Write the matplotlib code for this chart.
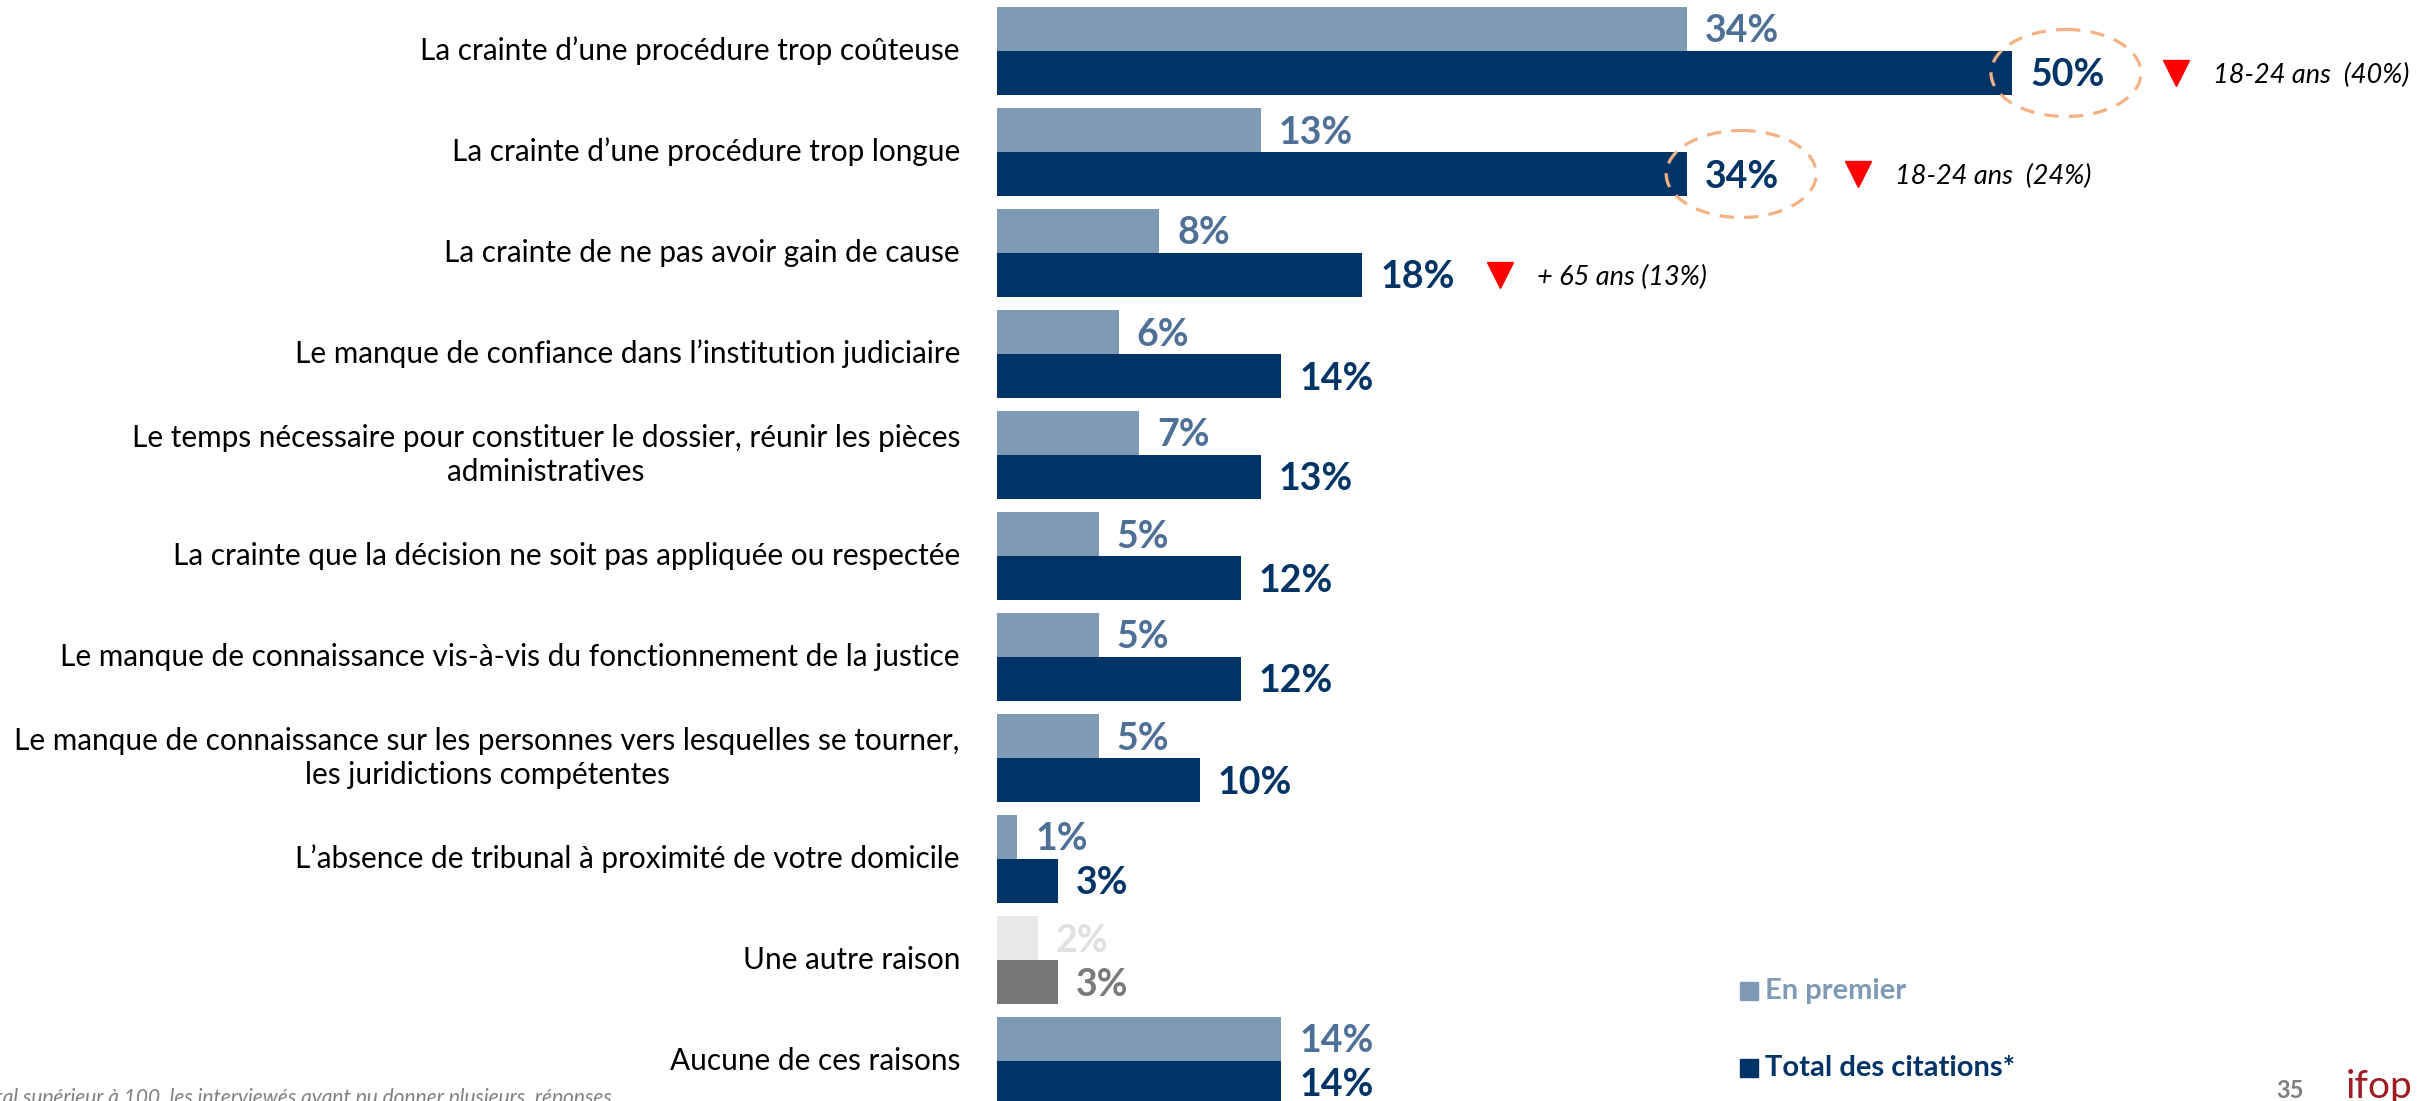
import numpy as np
import matplotlib
matplotlib.use('Agg')
import matplotlib.pyplot as plt
from matplotlib.patches import Ellipse, Rectangle

plt.rcParams['font.family'] = ['Lato', 'DejaVu Sans']

CATEGORIES = [
    "La crainte d\u2019une procédure trop coûteuse",
    "La crainte d\u2019une procédure trop longue",
    "La crainte de ne pas avoir gain de cause",
    "Le manque de confiance dans l\u2019institution judiciaire",
    "Le temps nécessaire pour constituer le dossier, réunir les pièces\nadministratives",
    "La crainte que la décision ne soit pas appliquée ou respectée",
    "Le manque de connaissance vis-à-vis du fonctionnement de la justice",
    "Le manque de connaissance sur les personnes vers lesquelles se tourner,\nles juridictions compétentes",
    "L\u2019absence de tribunal à proximité de votre domicile",
    "Une autre raison",
    "Aucune de ces raisons",
]
EN_PREMIER = [34, 13, 8, 6, 7, 5, 5, 5, 1, 2, 14]
TOTAL_CITATIONS = [50, 34, 18, 14, 13, 12, 12, 10, 3, 3, 14]
CIRCLED = [0, 1]
NOTE_ROWS = [0, 1, 2]
NOTE_TEXTS = ["18-24 ans  (40%)", "18-24 ans  (24%)", "+ 65 ans (13%)"]
GREY_ROW = 9
LEGEND_LABELS = ["En premier", "Total des citations*"]

# colours
LIGHT = "#7F9AB4"
LIGHT_TXT = "#4F7096"
DARK = "#003366"
GREY_LIGHT = "#E8E8E8"
GREY_LIGHT_TXT = "#E0E0E0"
GREY_DARK = "#777777"
GREY_DARK_TXT = "#7A7A7A"
RING = "#F4B183"

# layout, in output pixels
W, H = 2428, 1101
X0 = 997           # bar origin
PX_PER_PCT = 20.3
ROW0 = 51          # first row centre
PITCH = 101
BAR_PX = 44
PT = 0.72          # points per pixel at 100 dpi
NOTE_SHIFT = [8.1, 8.4, 6.8]  # triangle position past the bar end, in %

fig = plt.figure(figsize=(W / 100, H / 100), dpi=100)
ax = fig.add_axes([X0 / W, 0, 1 - X0 / W, 1])
ax.set_xlim(0, (W - X0) / PX_PER_PCT)
ax.set_ylim((H - ROW0) / PITCH, -ROW0 / PITCH)
ax.axis('off')

n = len(CATEGORIES)
y = np.arange(n)
h = BAR_PX / PITCH

light_cols = [GREY_LIGHT if i == GREY_ROW else LIGHT for i in range(n)]
dark_cols = [GREY_DARK if i == GREY_ROW else DARK for i in range(n)]
ax.barh(y - h / 2, EN_PREMIER, height=h, color=light_cols, linewidth=0)
ax.barh(y + h / 2, TOTAL_CITATIONS, height=h, color=dark_cols, linewidth=0)

VAL_FS = 27
for i in range(n):
    lt = GREY_LIGHT_TXT if i == GREY_ROW else LIGHT_TXT
    dt = GREY_DARK_TXT if i == GREY_ROW else DARK
    for val, yy, col in ((EN_PREMIER[i], y[i] - h / 2, lt),
                         (TOTAL_CITATIONS[i], y[i] + h / 2, dt)):
        ax.annotate(f"{val}%", xy=(val, yy), xytext=(18 * PT, -0.36 * VAL_FS),
                    textcoords='offset points', ha='left', va='baseline',
                    fontsize=VAL_FS, fontweight='bold', color=col,
                    annotation_clip=False)
    ax.text(-37 / PX_PER_PCT, y[i], CATEGORIES[i], ha='right', va='center',
            multialignment='center', fontsize=21.4, color='black',
            linespacing=1.3, clip_on=False)

# dashed rings around the highlighted totals
for i in CIRCLED:
    v = TOTAL_CITATIONS[i]
    ax.add_patch(Ellipse((v + 54 / PX_PER_PCT, y[i] + h / 2),
                         width=150 / PX_PER_PCT, height=87 / PITCH,
                         fill=False, edgecolor=RING, linewidth=2.3,
                         linestyle=(0, (4.5, 3.2)), zorder=5))

# sub-group notes
for i, txt, shift in zip(NOTE_ROWS, NOTE_TEXTS, NOTE_SHIFT):
    tx = TOTAL_CITATIONS[i] + shift
    ty = y[i] + h / 2
    ax.plot([tx], [ty], marker='v', markersize=19, color='#FF0000',
            linestyle='none', clip_on=False)
    ax.annotate(txt, xy=(tx, ty), xytext=(37 * PT, -0.36 * 19.5),
                textcoords='offset points', ha='left', va='baseline',
                fontsize=19.5, style='italic', color='black')

# legend
for k, (lab, col) in enumerate(zip(LEGEND_LABELS, [LIGHT, DARK])):
    cy = 991 + 77 * k
    fig.patches.append(Rectangle((1740 / W, 1 - (cy + 9) / H), 18 / W, 18 / H,
                                 transform=fig.transFigure, color=col))
    fig.text(1765 / W, 1 - cy / H, lab, ha='left', va='center',
             fontsize=21, fontweight='bold', color=col)

# footer
fig.text(612 / W, 1 - 1098 / H,
         "* Total supérieur à 100, les interviewés ayant pu donner plusieurs  réponses",
         ha='right', va='center', fontsize=15, style='italic', color='#808080')
fig.text(2276 / W, 1 - 1098 / H, "35", ha='left', va='baseline',
         fontsize=17, fontweight='bold', color='#7F7F7F')
fig.text(2346 / W, 1 - 1098 / H, "ifop", ha='left', va='baseline',
         fontsize=28, fontweight='normal', color='#9E1B22')

fig.savefig("out.png", dpi=100)
